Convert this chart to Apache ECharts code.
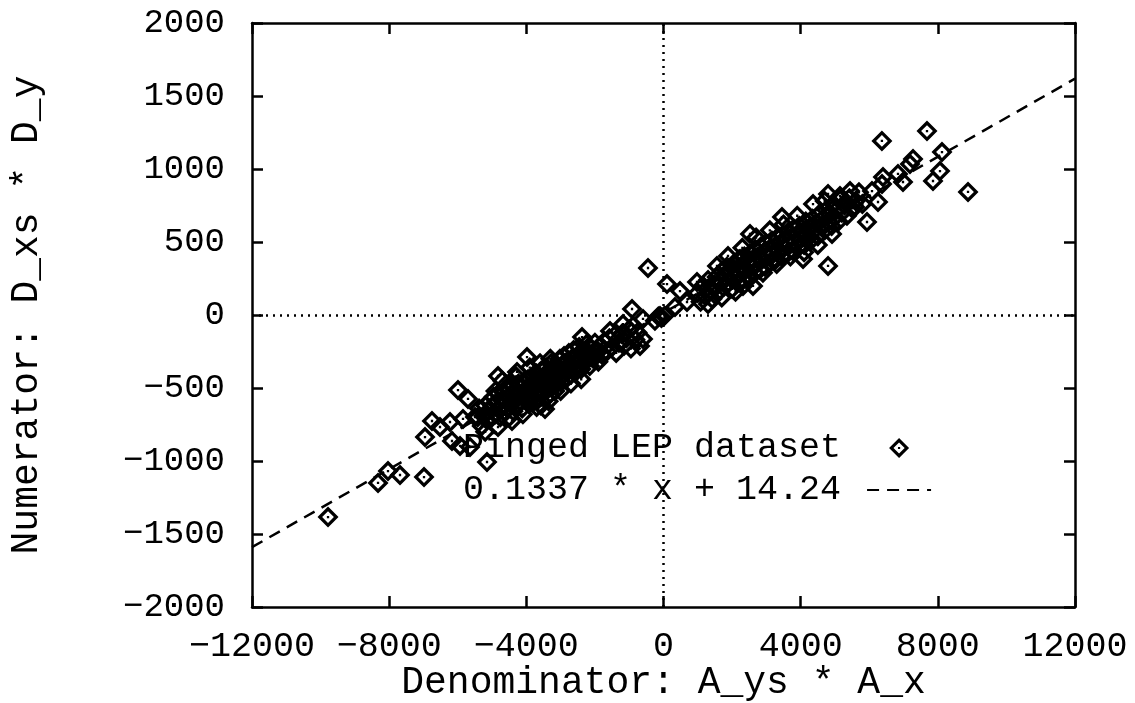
<!DOCTYPE html>
<html>
<head>
<meta charset="utf-8">
<script src="https://cdn.jsdelivr.net/npm/echarts@6/dist/echarts.min.js"></script>
<style>html,body{margin:0;padding:0;background:#fff;}#chart{width:1135px;height:703px;}</style>
</head>
<body>
<div id="chart"></div>
<script>
// ---- data ----
const xTicks = [-12000, -8000, -4000, 0, 4000, 8000, 12000];
const yTicks = [-2000, -1500, -1000, -500, 0, 500, 1000, 1500, 2000];
const xName = 'Denominator: A_ys * A_x';
const yName = 'Numerator: D_xs * D_y';
const scatterName = 'Pinged LEP dataset';
const fitName = '0.1337 * x + 14.24';

const negOutliers = [
  [-9783,-1384],[-8325,-1150],[-8034,-1069],[-7684,-1096],[-6984,-1110],[-6955,-836],
  [-6751,-726],[-6518,-767],[-6226,-733],[-6168,-863],[-5993,-514],[-5701,-575],
  [-5847,-712],[-5497,-699],[-5147,-1007],[-4826,-418],[-4826,-767],[-4418,-726],
  [-3980,-288],[-4272,-390],[-3455,-644],[-2376,-151],[-685,-212],[-889,-75],
  [-5934,-897],[-5643,-904]
];
const negCluster = [
  [-5420,-700],[-5380,-640],[-5300,-760],[-5250,-690],[-5200,-620],[-5150,-720],[-5100,-660],
  [-5060,-590],[-5000,-700],[-4980,-620],[-4950,-560],[-4900,-680],[-4870,-600],[-4820,-540],
  [-4800,-650],[-4760,-700],[-4720,-580],[-4700,-620],[-4660,-530],[-4640,-660],[-4600,-590],
  [-4580,-500],[-4540,-640],[-4500,-560],[-4470,-610],[-4440,-480],[-4400,-540],[-4380,-660],
  [-4350,-590],[-4320,-510],[-4300,-560],[-4260,-620],[-4230,-470],[-4200,-540],[-4180,-590],
  [-4150,-500],[-4120,-640],[-4100,-560],[-4060,-460],[-4040,-520],[-4000,-580],[-3980,-500],
  [-3950,-440],[-3920,-610],[-3900,-540],[-3870,-480],[-3850,-560],[-3820,-420],[-3800,-500],
  [-3780,-590],[-3750,-460],[-3730,-530],[-3700,-400],[-3680,-480],[-3650,-560],[-3630,-440],
  [-3600,-510],[-3580,-620],[-3560,-380],[-3540,-460],[-3510,-530],[-3490,-420],[-3470,-490],
  [-3440,-570],[-3420,-360],[-3400,-440],[-3380,-510],[-3350,-400],[-3330,-470],[-3300,-540],
  [-3280,-330],[-3260,-420],[-3240,-490],[-3210,-380],[-3190,-450],[-3160,-520],[-3140,-340],
  [-3120,-410],[-3100,-470],[-3070,-360],[-3050,-430],[-3020,-300],[-3000,-390],[-2980,-460],
  [-2950,-340],[-2920,-410],[-2900,-280],[-2870,-370],[-2850,-440],[-2820,-320],[-2800,-390],
  [-2760,-260],[-2740,-350],[-2700,-410],[-2680,-300],[-2650,-370],[-2620,-240],[-2600,-330],
  [-2560,-390],[-2530,-280],[-2500,-340],[-2460,-220],[-2430,-300],[-2400,-370],[-2350,-260],
  [-2300,-320],[-2250,-200],[-2200,-280],[-2150,-350],[-2100,-230],[-2050,-300],[-2000,-190],
  [-1950,-260],[-1900,-320],[-1850,-210],[-1800,-270],[-1720,-180],[-1650,-250],[-1580,-160],
  [-1500,-220],[-1430,-140],[-1380,-260],[-1300,-190],[-1220,-130],[-1150,-210],[-1080,-160],
  [-1000,-100],[-950,-230],[-820,-170],[-760,-120],
  [-4700,-450],[-4300,-420],[-3900,-360],[-3600,-330],[-3300,-300],[-4100,-680],[-3700,-630],
  [-3350,-590],[-3000,-520],[-2700,-470],[-5200,-800],[-4900,-520],[-4500,-700],[-2400,-440]
];
const centerPoints = [
  [102,212],[481,164],[-452,322],[-598,-27],[-598,-164],[335,55],[685,89],[-918,41],
  [-102,-7],[-1181,-62],[-1560,-110],[-60,-20],[-150,-10],[30,-5],[-250,-40]
];
const posCluster = [
  [1000,150],[1080,90],[1150,200],[1220,130],[1300,240],[1350,170],[1420,110],[1480,210],
  [1550,260],[1600,160],[1650,230],[1700,300],[1750,190],[1800,260],[1850,330],[1900,220],
  [1950,290],[2000,180],[2040,350],[2080,250],[2120,310],[2160,220],[2200,380],[2240,280],
  [2280,340],[2320,240],[2360,400],[2400,310],[2440,360],[2480,260],[2520,420],[2560,330],
  [2600,380],[2640,290],[2680,450],[2720,350],[2760,400],[2800,310],[2840,470],[2880,380],
  [2920,430],[2960,330],[3000,490],[3040,400],[3080,450],[3120,360],[3160,510],[3200,420],
  [3240,470],[3280,380],[3320,530],[3360,440],[3400,490],[3440,400],[3480,550],[3520,460],
  [3560,510],[3600,420],[3640,570],[3680,480],[3720,530],[3760,440],[3800,590],[3840,500],
  [3880,550],[3920,460],[3960,610],[4000,520],[4050,570],[4100,480],[4150,640],[4200,550],
  [4250,600],[4300,510],[4350,660],[4400,580],[4450,630],[4500,540],[4550,690],[4600,610],
  [4650,660],[4700,580],[4750,720],[4800,640],[4850,690],[4900,610],[4950,760],[5000,670],
  [5050,720],[5100,640],[5150,790],[5200,700],[5280,750],[5350,680],[5420,800],[5500,730],
  [5600,780],[5700,840],[5800,760],
  [2300,460],[2700,530],[3100,580],[3500,620],[3900,680],[2100,160],[2500,250],[2900,290],
  [3300,350],[3700,400],[4100,430],[4500,480],[1700,120],[4700,780]
];
const posOutliers = [
  [7684,1260],[6369,1192],[8121,1116],[8063,986],[7859,918],[8880,843],[7276,1069],
  [7188,1034],[6838,966],[6984,911],[6401,945],[6372,897],[6255,774],[5934,637],
  [6080,849],[5439,849],[5585,740],[4798,336],[4069,384],[2523,555],[4798,829],
  [4360,760],[5147,815],[4914,555],[3455,671],[2610,199],[1298,75],[977,226],
  [1560,336],[1881,404],[2231,384],[2318,199]
];
const fitLine = [[-12000,-1590.2],[12000,1618.6]];

const points = negOutliers.concat(negCluster, centerPoints, posCluster, posOutliers);

const FONT = "'Liberation Mono', 'DejaVu Sans Mono', monospace";
const diamond = 'path://M0,-10L10,0L0,10L-10,0ZM0,-5.6L-5.6,0L0,5.6L5.6,0ZM-1.1,-1.1L1.1,-1.1L1.1,1.1L-1.1,1.1Z';
const fmt = function (v) { return String(v).replace('-', '\u2212'); };

const axisLine = {show: true, onZero: false, lineStyle: {color: '#000', width: 2.5}};
const axisTick = {show: true, inside: true, length: 11, lineStyle: {color: '#000', width: 2.5}};

const chart = echarts.init(document.getElementById('chart'));
chart.setOption({
  animation: false,
  backgroundColor: '#fff',
  grid: {left: 252, right: 60, top: 23, bottom: 96, containLabel: false, outerBoundsMode: 'none'},
  legend: {
    orient: 'vertical', align: 'right', left: 463, top: 430, padding: 0,
    itemGap: 6, itemWidth: 64, itemHeight: 20,
    formatter: function (n) { return n + ' '; },
    textStyle: {fontFamily: FONT, fontSize: 35, color: '#000', lineHeight: 36},
    data: [{name: scatterName, icon: diamond}, {name: fitName, itemStyle: {opacity: 0}}]
  },
  xAxis: [{
    type: 'value', min: xTicks[0], max: xTicks[xTicks.length - 1], interval: 4000,
    position: 'bottom', name: xName, nameLocation: 'middle', nameGap: 57, nameMoveOverlap: false,
    nameTextStyle: {fontFamily: FONT, fontSize: 38, color: '#000'},
    axisLine: axisLine, axisTick: axisTick, splitLine: {show: false},
    axisLabel: {fontFamily: FONT, fontSize: 35, color: '#000', margin: 22, formatter: fmt}
  }, {
    type: 'value', min: xTicks[0], max: xTicks[xTicks.length - 1], interval: 4000,
    position: 'top', axisLine: axisLine, axisTick: axisTick, splitLine: {show: false},
    axisLabel: {show: false}
  }],
  yAxis: [{
    type: 'value', min: yTicks[0], max: yTicks[yTicks.length - 1], interval: 500,
    position: 'left', name: yName, nameLocation: 'middle', nameGap: 206, nameMoveOverlap: false,
    nameTextStyle: {fontFamily: FONT, fontSize: 38, color: '#000'},
    axisLine: axisLine, axisTick: axisTick, splitLine: {show: false},
    axisLabel: {fontFamily: FONT, fontSize: 34, color: '#000', margin: 27, formatter: fmt}
  }, {
    type: 'value', min: yTicks[0], max: yTicks[yTicks.length - 1], interval: 500,
    position: 'right', axisLine: axisLine, axisTick: axisTick, splitLine: {show: false},
    axisLabel: {show: false}
  }],
  series: [{
    name: scatterName, type: 'scatter', data: points,
    symbol: diamond, symbolSize: 21, symbolKeepAspect: true,
    itemStyle: {color: '#000', opacity: 1},
    z: 3,
    markLine: {
      silent: true, symbol: 'none', animation: false,
      label: {show: false},
      lineStyle: {color: '#000', width: 2.5, type: [2, 5]},
      data: [{xAxis: 0}, {yAxis: 0}]
    }
  }, {
    name: fitName, type: 'line', data: fitLine, showSymbol: false, symbol: 'none',
    itemStyle: {color: '#000'},
    lineStyle: {color: '#000', width: 2.5, type: [12, 8]}, z: 2
  }]
});
</script>
</body>
</html>
